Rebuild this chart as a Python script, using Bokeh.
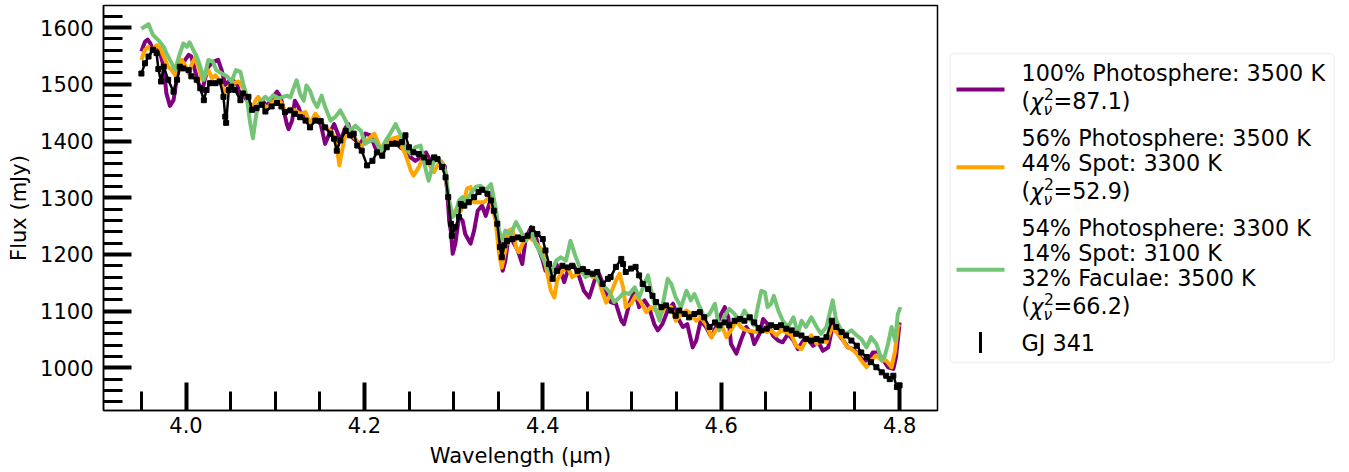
from bokeh.plotting import figure
from bokeh.layouts import row
from bokeh.models import FixedTicker, Range1d, BoxAnnotation
from bokeh.core.properties import value
from bokeh.embed import file_html
from bokeh.resources import INLINE

# ---------------- data ----------------
phot_wave = [3.950, 3.954, 3.957, 3.960, 3.963, 3.967, 3.971, 3.975, 3.978, 3.982, 3.986, 3.990, 3.993, 3.999, 4.003, 4.006, 4.010, 4.014, 4.018, 4.021, 4.025, 4.031, 4.036, 4.040, 4.044, 4.048, 4.051, 4.057, 4.061, 4.064, 4.068, 4.074, 4.079, 4.085, 4.091, 4.096, 4.102, 4.106, 4.109, 4.113, 4.115, 4.119, 4.122, 4.126, 4.130, 4.134, 4.139, 4.145, 4.151, 4.156, 4.160, 4.166, 4.169, 4.173, 4.179, 4.182, 4.186, 4.192, 4.196, 4.201, 4.207, 4.212, 4.218, 4.224, 4.229, 4.235, 4.240, 4.246, 4.252, 4.257, 4.263, 4.269, 4.274, 4.280, 4.285, 4.290, 4.293, 4.295, 4.297, 4.299, 4.302, 4.306, 4.310, 4.313, 4.319, 4.323, 4.327, 4.332, 4.336, 4.340, 4.343, 4.347, 4.351, 4.355, 4.358, 4.362, 4.366, 4.372, 4.377, 4.381, 4.387, 4.392, 4.396, 4.400, 4.403, 4.409, 4.415, 4.420, 4.424, 4.429, 4.435, 4.441, 4.446, 4.452, 4.458, 4.463, 4.469, 4.474, 4.476, 4.482, 4.488, 4.491, 4.497, 4.503, 4.508, 4.514, 4.519, 4.525, 4.529, 4.534, 4.540, 4.546, 4.551, 4.557, 4.562, 4.568, 4.572, 4.577, 4.583, 4.589, 4.594, 4.600, 4.604, 4.608, 4.611, 4.617, 4.622, 4.628, 4.634, 4.637, 4.643, 4.647, 4.652, 4.658, 4.664, 4.669, 4.675, 4.681, 4.686, 4.692, 4.697, 4.703, 4.709, 4.714, 4.720, 4.725, 4.731, 4.737, 4.742, 4.748, 4.753, 4.759, 4.765, 4.770, 4.776, 4.782, 4.787, 4.793, 4.796, 4.800]
phot_flux = [1558, 1575, 1579, 1572, 1561, 1564, 1555, 1531, 1484, 1462, 1472, 1514, 1531, 1543, 1552, 1549, 1525, 1502, 1487, 1508, 1531, 1540, 1543, 1525, 1499, 1505, 1508, 1502, 1478, 1484, 1472, 1461, 1458, 1472, 1461, 1475, 1487, 1478, 1458, 1430, 1421, 1436, 1471, 1460, 1442, 1445, 1433, 1439, 1430, 1395, 1410, 1430, 1418, 1401, 1424, 1430, 1407, 1398, 1395, 1413, 1410, 1389, 1380, 1395, 1401, 1398, 1389, 1383, 1371, 1365, 1371, 1380, 1365, 1371, 1363, 1356, 1310, 1260, 1240, 1201, 1219, 1266, 1260, 1236, 1219, 1242, 1277, 1286, 1268, 1289, 1301, 1271, 1230, 1171, 1189, 1236, 1224, 1207, 1183, 1230, 1248, 1233, 1207, 1189, 1171, 1166, 1183, 1171, 1151, 1177, 1180, 1160, 1136, 1124, 1154, 1166, 1142, 1124, 1116, 1113, 1083, 1077, 1113, 1136, 1107, 1119, 1107, 1077, 1066, 1077, 1101, 1113, 1089, 1072, 1077, 1036, 1048, 1083, 1072, 1054, 1072, 1095, 1107, 1089, 1042, 1025, 1048, 1072, 1060, 1042, 1060, 1086, 1077, 1057, 1048, 1045, 1060, 1048, 1033, 1048, 1051, 1039, 1045, 1030, 1036, 1075, 1060, 1048, 1036, 1033, 1025, 1013, 1013, 1027, 1027, 1013, 1001, 998, 1019, 1080]

spot_wave = [3.950, 3.954, 3.958, 3.961, 3.967, 3.971, 3.975, 3.980, 3.984, 3.988, 3.991, 3.995, 3.999, 4.003, 4.006, 4.010, 4.014, 4.018, 4.021, 4.025, 4.029, 4.033, 4.038, 4.044, 4.048, 4.053, 4.059, 4.063, 4.066, 4.070, 4.074, 4.078, 4.081, 4.085, 4.091, 4.096, 4.102, 4.107, 4.111, 4.117, 4.122, 4.128, 4.134, 4.139, 4.145, 4.151, 4.156, 4.162, 4.166, 4.169, 4.172, 4.175, 4.179, 4.184, 4.190, 4.196, 4.201, 4.207, 4.211, 4.216, 4.220, 4.225, 4.231, 4.237, 4.240, 4.246, 4.252, 4.255, 4.261, 4.267, 4.272, 4.278, 4.282, 4.287, 4.291, 4.294, 4.297, 4.300, 4.304, 4.308, 4.312, 4.315, 4.319, 4.323, 4.328, 4.334, 4.340, 4.343, 4.347, 4.351, 4.354, 4.358, 4.362, 4.366, 4.370, 4.373, 4.379, 4.385, 4.390, 4.396, 4.400, 4.405, 4.409, 4.413, 4.416, 4.422, 4.428, 4.433, 4.439, 4.445, 4.450, 4.456, 4.461, 4.465, 4.471, 4.476, 4.482, 4.486, 4.490, 4.493, 4.499, 4.504, 4.510, 4.516, 4.521, 4.527, 4.533, 4.538, 4.544, 4.549, 4.555, 4.561, 4.566, 4.572, 4.577, 4.583, 4.589, 4.594, 4.600, 4.606, 4.611, 4.617, 4.622, 4.628, 4.634, 4.639, 4.645, 4.651, 4.656, 4.662, 4.667, 4.673, 4.679, 4.684, 4.690, 4.695, 4.701, 4.707, 4.712, 4.718, 4.724, 4.729, 4.735, 4.740, 4.746, 4.752, 4.757, 4.763, 4.768, 4.774, 4.780, 4.785, 4.791, 4.795, 4.798, 4.800]
spot_flux = [1543, 1561, 1566, 1558, 1569, 1564, 1549, 1531, 1525, 1516, 1525, 1543, 1534, 1519, 1534, 1546, 1531, 1508, 1514, 1525, 1511, 1516, 1505, 1484, 1496, 1502, 1505, 1496, 1490, 1466, 1455, 1472, 1478, 1466, 1458, 1467, 1475, 1467, 1452, 1457, 1454, 1448, 1451, 1430, 1448, 1436, 1424, 1418, 1407, 1389, 1357, 1383, 1415, 1413, 1404, 1389, 1398, 1407, 1413, 1395, 1383, 1392, 1404, 1407, 1395, 1377, 1348, 1339, 1354, 1374, 1360, 1345, 1357, 1363, 1342, 1300, 1277, 1271, 1283, 1277, 1295, 1316, 1319, 1292, 1292, 1292, 1301, 1286, 1260, 1201, 1177, 1207, 1242, 1245, 1213, 1204, 1224, 1230, 1224, 1213, 1207, 1166, 1136, 1124, 1154, 1171, 1177, 1160, 1166, 1177, 1166, 1160, 1163, 1142, 1115, 1130, 1154, 1166, 1142, 1107, 1113, 1127, 1116, 1098, 1107, 1101, 1095, 1110, 1107, 1083, 1095, 1101, 1095, 1083, 1089, 1077, 1054, 1066, 1077, 1054, 1066, 1083, 1072, 1066, 1065, 1063, 1069, 1063, 1066, 1057, 1066, 1063, 1057, 1039, 1033, 1048, 1057, 1042, 1048, 1045, 1072, 1063, 1054, 1039, 1033, 1025, 1013, 1001, 1013, 1022, 1013, 1013, 1001, 1030, 1072, 1077]

fac_wave = [3.950, 3.954, 3.958, 3.963, 3.969, 3.975, 3.978, 3.984, 3.988, 3.992, 3.997, 4.001, 4.004, 4.008, 4.012, 4.016, 4.020, 4.025, 4.030, 4.034, 4.040, 4.046, 4.051, 4.056, 4.061, 4.064, 4.068, 4.072, 4.075, 4.079, 4.083, 4.089, 4.093, 4.098, 4.104, 4.109, 4.113, 4.117, 4.121, 4.124, 4.128, 4.132, 4.135, 4.139, 4.143, 4.147, 4.152, 4.156, 4.162, 4.167, 4.173, 4.179, 4.184, 4.190, 4.196, 4.201, 4.207, 4.212, 4.218, 4.224, 4.229, 4.235, 4.240, 4.246, 4.252, 4.257, 4.263, 4.269, 4.272, 4.276, 4.280, 4.285, 4.290, 4.293, 4.295, 4.299, 4.302, 4.306, 4.310, 4.313, 4.319, 4.325, 4.330, 4.336, 4.342, 4.347, 4.351, 4.355, 4.358, 4.364, 4.370, 4.375, 4.381, 4.387, 4.392, 4.398, 4.403, 4.409, 4.415, 4.420, 4.426, 4.431, 4.437, 4.443, 4.448, 4.454, 4.460, 4.465, 4.471, 4.475, 4.480, 4.486, 4.491, 4.497, 4.503, 4.508, 4.514, 4.518, 4.521, 4.527, 4.531, 4.536, 4.540, 4.544, 4.549, 4.555, 4.561, 4.566, 4.570, 4.576, 4.581, 4.587, 4.593, 4.598, 4.604, 4.609, 4.615, 4.621, 4.626, 4.632, 4.637, 4.641, 4.645, 4.649, 4.652, 4.656, 4.659, 4.664, 4.669, 4.675, 4.681, 4.686, 4.690, 4.695, 4.701, 4.707, 4.712, 4.718, 4.725, 4.729, 4.735, 4.740, 4.746, 4.752, 4.757, 4.763, 4.768, 4.774, 4.780, 4.783, 4.787, 4.791, 4.795, 4.798, 4.801]
fac_flux = [1598, 1602, 1606, 1587, 1578, 1566, 1555, 1537, 1525, 1549, 1572, 1566, 1574, 1561, 1549, 1531, 1508, 1543, 1540, 1525, 1519, 1514, 1505, 1525, 1522, 1502, 1478, 1431, 1405, 1449, 1469, 1478, 1472, 1481, 1475, 1478, 1480, 1477, 1495, 1507, 1483, 1471, 1498, 1489, 1471, 1460, 1480, 1460, 1436, 1442, 1454, 1436, 1418, 1427, 1418, 1395, 1401, 1401, 1383, 1401, 1413, 1430, 1413, 1389, 1377, 1389, 1392, 1348, 1330, 1354, 1374, 1365, 1350, 1320, 1295, 1266, 1271, 1295, 1301, 1289, 1307, 1319, 1321, 1313, 1324, 1283, 1242, 1224, 1242, 1236, 1257, 1242, 1224, 1242, 1218, 1201, 1183, 1166, 1189, 1195, 1189, 1224, 1195, 1171, 1160, 1166, 1160, 1148, 1140, 1133, 1116, 1124, 1133, 1130, 1142, 1124, 1148, 1163, 1139, 1101, 1083, 1124, 1157, 1148, 1124, 1107, 1136, 1119, 1130, 1107, 1089, 1095, 1113, 1066, 1092, 1104, 1095, 1083, 1101, 1086, 1075, 1107, 1136, 1133, 1107, 1113, 1127, 1101, 1083, 1072, 1089, 1060, 1083, 1072, 1089, 1072, 1060, 1072, 1119, 1083, 1066, 1060, 1066, 1057, 1051, 1036, 1054, 1042, 1013, 1019, 1042, 1072, 1048, 1095, 1107]

obs_wave = [3.950, 3.954, 3.958, 3.963, 3.967, 3.969, 3.972, 3.975, 3.980, 3.986, 3.990, 3.993, 3.997, 4.003, 4.006, 4.012, 4.016, 4.020, 4.023, 4.027, 4.033, 4.038, 4.042, 4.044, 4.045, 4.048, 4.051, 4.055, 4.061, 4.064, 4.070, 4.074, 4.079, 4.085, 4.089, 4.096, 4.102, 4.107, 4.111, 4.117, 4.122, 4.128, 4.134, 4.139, 4.145, 4.151, 4.156, 4.162, 4.166, 4.169, 4.173, 4.179, 4.184, 4.188, 4.192, 4.197, 4.203, 4.209, 4.214, 4.220, 4.225, 4.231, 4.237, 4.242, 4.246, 4.250, 4.255, 4.261, 4.267, 4.272, 4.278, 4.282, 4.287, 4.291, 4.294, 4.297, 4.298, 4.302, 4.306, 4.308, 4.312, 4.317, 4.323, 4.328, 4.332, 4.338, 4.342, 4.345, 4.349, 4.352, 4.354, 4.357, 4.360, 4.366, 4.372, 4.377, 4.383, 4.388, 4.394, 4.400, 4.403, 4.407, 4.411, 4.416, 4.422, 4.428, 4.433, 4.439, 4.445, 4.450, 4.456, 4.461, 4.467, 4.473, 4.476, 4.482, 4.488, 4.490, 4.493, 4.499, 4.504, 4.508, 4.512, 4.518, 4.523, 4.527, 4.533, 4.538, 4.544, 4.549, 4.553, 4.559, 4.564, 4.570, 4.576, 4.581, 4.587, 4.593, 4.598, 4.604, 4.609, 4.615, 4.621, 4.626, 4.632, 4.637, 4.642, 4.645, 4.651, 4.656, 4.662, 4.667, 4.673, 4.679, 4.684, 4.690, 4.695, 4.701, 4.707, 4.712, 4.718, 4.724, 4.729, 4.735, 4.740, 4.746, 4.752, 4.757, 4.763, 4.768, 4.774, 4.780, 4.785, 4.789, 4.793, 4.797, 4.800]
obs_flux = [1519, 1537, 1549, 1561, 1555, 1527, 1505, 1531, 1508, 1487, 1508, 1531, 1528, 1525, 1514, 1508, 1493, 1472, 1490, 1502, 1502, 1505, 1478, 1443, 1432, 1490, 1496, 1490, 1472, 1484, 1478, 1455, 1458, 1464, 1452, 1461, 1467, 1461, 1451, 1454, 1448, 1442, 1436, 1424, 1436, 1435, 1424, 1413, 1404, 1383, 1401, 1418, 1410, 1413, 1392, 1383, 1357, 1365, 1380, 1374, 1389, 1395, 1395, 1398, 1410, 1389, 1380, 1377, 1371, 1363, 1371, 1368, 1354, 1336, 1301, 1254, 1233, 1248, 1266, 1289, 1286, 1292, 1301, 1310, 1314, 1307, 1295, 1277, 1254, 1213, 1195, 1216, 1224, 1227, 1230, 1227, 1233, 1245, 1236, 1227, 1207, 1183, 1157, 1171, 1180, 1177, 1180, 1171, 1174, 1169, 1166, 1169, 1148, 1157, 1160, 1178, 1192, 1183, 1169, 1175, 1178, 1163, 1148, 1139, 1127, 1116, 1107, 1110, 1101, 1092, 1101, 1095, 1089, 1095, 1098, 1089, 1072, 1080, 1075, 1080, 1075, 1083, 1086, 1083, 1089, 1080, 1070, 1066, 1069, 1075, 1072, 1075, 1069, 1066, 1060, 1057, 1051, 1048, 1051, 1048, 1054, 1083, 1072, 1063, 1057, 1048, 1039, 1027, 1019, 1010, 1001, 992, 986, 980, 986, 966, 969]

x_ticks = [4.0, 4.2, 4.4, 4.6, 4.8]
x_tick_labels = ["4.0", "4.2", "4.4", "4.6", "4.8"]
x_minor = [3.95, 4.05, 4.10, 4.15, 4.25, 4.30, 4.35, 4.45, 4.50, 4.55, 4.65, 4.70, 4.75]
y_ticks = [1000, 1100, 1200, 1300, 1400, 1500, 1600]
y_tick_labels = ["1000", "1100", "1200", "1300", "1400", "1500", "1600"]
y_minor = [940, 960, 980, 1020, 1040, 1060, 1080, 1120, 1140, 1160, 1180, 1220, 1240, 1260, 1280,
           1320, 1340, 1360, 1380, 1420, 1440, 1460, 1480, 1520, 1540, 1560, 1580, 1620]

label_phot = ["100% Photosphere: 3500 K"]
label_spot = ["56% Photosphere: 3500 K", "44% Spot: 3300 K"]
label_fac = ["54% Photosphere: 3300 K", "14% Spot: 3100 K", "32% Faculae: 3500 K"]
chi_values = ["87.1", "52.9", "66.2"]
obs_label = "GJ 341"

C_PHOT = "#800080"
C_SPOT = "#FFA500"
C_FAC = "#74C476"
FONT = "DejaVu Sans"

# ---------------- main plot ----------------
p = figure(width=945, height=472, output_backend="svg", toolbar_location=None,
           x_range=Range1d(3.9075, 4.8425), y_range=Range1d(924.7, 1639.0),
           min_border_left=103, min_border_right=8, min_border_top=5, min_border_bottom=62)
p.background_fill_color = "white"
p.border_fill_color = "white"
p.grid.visible = False
p.outline_line_color = "black"
p.outline_line_width = 1.5
p.outline_line_alpha = 1.0

for ax in (p.xaxis[0], p.yaxis[0]):
    ax.axis_line_color = "black"
    ax.axis_line_width = 1.5
    ax.major_tick_in = 28
    ax.major_tick_out = 0
    ax.minor_tick_in = 19
    ax.minor_tick_out = 0
    ax.major_tick_line_width = 4
    ax.minor_tick_line_width = 3
    ax.major_tick_line_color = "black"
    ax.minor_tick_line_color = "black"
    ax.major_label_text_font = FONT
    ax.major_label_text_font_size = "21px"
    ax.major_label_text_color = "black"
    ax.axis_label_text_font = FONT
    ax.axis_label_text_font_size = "21px"
    ax.axis_label_text_font_style = "normal"
    ax.axis_label_text_color = "black"

p.xaxis.ticker = FixedTicker(ticks=x_ticks, minor_ticks=x_minor)
p.yaxis.ticker = FixedTicker(ticks=y_ticks, minor_ticks=y_minor)
p.xaxis.major_label_overrides = {t: s for t, s in zip(x_ticks, x_tick_labels)}
p.yaxis.major_label_overrides = {t: s for t, s in zip(y_ticks, y_tick_labels)}
p.xaxis.axis_label = "Wavelength (\u03bcm)"
p.yaxis.axis_label = "Flux (mJy)"
p.xaxis.major_label_standoff = 6
p.xaxis.axis_label_standoff = 8
p.yaxis.major_label_standoff = 10
p.yaxis.axis_label_standoff = 6

p.line(phot_wave, phot_flux, line_color=C_PHOT, line_width=4, line_join="round")
p.line(spot_wave, spot_flux, line_color=C_SPOT, line_width=4, line_join="round")
p.line(fac_wave, fac_flux, line_color=C_FAC, line_width=4, line_join="round")
p.line(obs_wave, obs_flux, line_color="black", line_width=2.5)
p.scatter(obs_wave, obs_flux, marker="square", size=5, fill_color="black", line_color="black")

# ---------------- legend panel ----------------
# the row aligns this panel's frame with the main frame (pixels 5..410),
# so the y range is set so that data units equal page pixels.
L = figure(width=404, height=472, output_backend="svg", toolbar_location=None,
           x_range=Range1d(0, 404), y_range=Range1d(410, 5),
           x_axis_location=None, y_axis_location=None, min_border=0)
L.grid.visible = False
L.outline_line_color = None
L.background_fill_color = "white"
L.border_fill_color = "white"
L.add_layout(BoxAnnotation(left=4.5, right=388.5, top=53, bottom=362, level="underlay",
                           fill_color="white", fill_alpha=1.0, line_color="#d0d0d0",
                           line_width=1.5, border_radius=4))

TX = 76
FS = "22.3px"
DY = 0.5  # baseline correction

def txt(x, y, s, size=FS, style="normal"):
    L.text(x=[x], y=[y + DY], text=[s], text_font=value(FONT), text_font_size=size,
           text_font_style=style, text_baseline="middle", text_align="left", text_color="black")

def chi_line(y, val):
    txt(TX, y, "(")
    txt(TX + 8.8, y + 1, "\u03c7", style="italic")
    txt(TX + 22.5, y - 7, "2", size="15.5px")
    txt(TX + 22, y + 9, "\u03bd", size="15.5px", style="italic")
    txt(TX + 32, y, "=" + val + ")")

# entry 1
L.segment(x0=[11], y0=[89], x1=[59], y1=[89], line_color=C_PHOT, line_width=4)
txt(TX, 71.7, label_phot[0])
chi_line(100, chi_values[0])
# entry 2
L.segment(x0=[11], y0=[166.7], x1=[59], y1=[166.7], line_color=C_SPOT, line_width=4)
txt(TX, 136.7, label_spot[0])
txt(TX, 161.7, label_spot[1])
chi_line(190, chi_values[1])
# entry 3
L.segment(x0=[11], y0=[269.3], x1=[59], y1=[269.3], line_color=C_FAC, line_width=4)
txt(TX, 226.7, label_fac[0])
txt(TX, 251.7, label_fac[1])
txt(TX, 276.7, label_fac[2])
chi_line(305, chi_values[2])
# entry 4
L.segment(x0=[35], y0=[331.5], x1=[35], y1=[352.5], line_color="black", line_width=3)
txt(TX, 341.7, obs_label)

layout = row(p, L)
open("out.html", "w").write(file_html(layout, INLINE))
